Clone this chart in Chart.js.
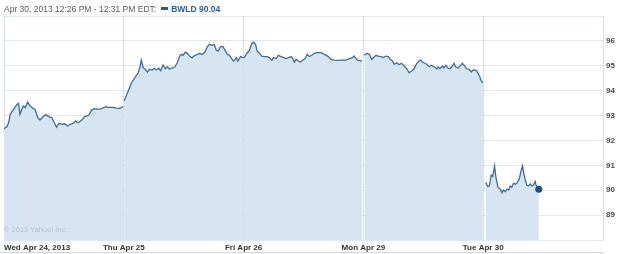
<!DOCTYPE html>
<html>
<head>
<meta charset="utf-8">
<script src="https://cdn.jsdelivr.net/npm/chart.js@4.4.1/dist/chart.umd.min.js"></script>
<style>
  body { margin: 0; background: #fff; font-family: "Liberation Sans", Arial, sans-serif; }
  #wrap { position: relative; width: 625px; height: 254px; }
  #head { position: absolute; left: 4px; top: 4px; font-size: 8.5px; line-height: 11px; color: #5c5c5c; white-space: nowrap; }
  #head .sw { display: inline-block; width: 7px; height: 3px; background: #1f5a98; vertical-align: middle; margin: 0 3px 0 5px; position: relative; top: -1px; }
  #head b { color: #2b5f9c; }
  #copy { position: absolute; left: 4px; top: 225px; font-size: 7.5px; color: #b4c3cf; white-space: nowrap; }
  #foot { position: absolute; left: 0; top: 252px; width: 603px; height: 1px; background: #d2d8dd; }
</style>
</head>
<body>
<div id="wrap">
  <canvas id="grafico"></canvas>
  <div id="head">Apr 30, 2013 12:26 PM - 12:31 PM EDT:<span class="sw"></span><b>BWLD 90.04</b></div>
  <div id="copy">© 2013 Yahoo! Inc.</div>
  <div id="foot"></div>
</div>
<script>
// dias de negociação (rótulos do eixo x)
const dias = ['Wed Apr 24, 2013', 'Thu Apr 25', 'Fri Apr 26', 'Mon Apr 29', 'Tue Apr 30'];

// horários (EDT) e preços, um par de listas por dia
const horasQua = ['9:30','9:39','9:45','9:50','10:01','10:12','10:17','10:22','10:28','10:33','10:39','10:47','10:55','11:06','11:11','11:20','11:27','11:38','11:46','11:55','12:05','12:14','12:21','12:29','12:38','12:48','12:57','13:05','13:16','13:23','13:32','13:43','13:53','14:06','14:15','14:24','14:37','14:48','15:01','15:09','15:26','15:36','15:47','15:58'];
const precosQua = [92.47,92.55,92.71,93.05,93.25,93.45,93.49,93.05,93.25,93.38,93.32,93.54,93.38,93.28,93.25,92.92,92.82,92.96,93.04,92.96,92.92,92.71,92.53,92.69,92.65,92.67,92.58,92.65,92.69,92.78,92.71,92.82,92.96,93.01,93.22,93.28,93.25,93.28,93.36,93.33,93.33,93.30,93.29,93.36];

const horasQui = ['9:31','9:44','9:55','10:06','10:17','10:22','10:27','10:33','10:38','10:47','10:54','11:02','11:09','11:16','11:24','11:30','11:38','11:45','11:52','11:59','12:07','12:16','12:24','12:32','12:37','12:43','12:50','12:57','13:04','13:12','13:21','13:29','13:37','13:45','13:53','14:02','14:09','14:17','14:24','14:31','14:37','14:45','14:53','14:58','15:07','15:14','15:22','15:28','15:36','15:41','15:50','15:59'];
const precosQui = [93.58,93.98,94.32,94.52,94.72,94.92,95.23,94.92,94.88,94.75,94.86,94.83,94.90,94.83,94.90,94.80,95.03,94.88,94.96,94.86,94.91,94.95,95.12,95.39,95.46,95.42,95.55,95.50,95.39,95.32,95.42,95.45,95.50,95.45,95.53,95.77,95.86,95.82,95.86,95.63,95.59,95.77,95.77,95.66,95.46,95.42,95.26,95.19,95.33,95.19,95.37,95.33];

const horasSex = ['9:31','9:38','9:49','9:57','10:03','10:09','10:14','10:22','10:29','10:38','10:47','10:54','11:02','11:08','11:16','11:23','11:32','11:41','11:48','11:56','12:05','12:10','12:15','12:21','12:28','12:35','12:43','12:50','12:57','13:04','13:12','13:20','13:29','13:42','13:53','14:06','14:15','14:25','14:38','14:52','15:03','15:14','15:25','15:30','15:36','15:41','15:56'];
const precosSex = [95.30,95.46,95.63,95.90,95.95,95.86,95.59,95.50,95.39,95.37,95.37,95.33,95.22,95.33,95.29,95.42,95.37,95.33,95.29,95.33,95.37,95.29,95.15,95.26,95.19,95.15,95.23,95.29,95.46,95.37,95.42,95.50,95.53,95.53,95.46,95.37,95.26,95.23,95.22,95.23,95.23,95.29,95.33,95.39,95.29,95.23,95.19];

const horasSeg = ['9:33','9:41','9:49','9:57','10:03','10:11','10:18','10:27','10:36','10:43','10:51','10:57','11:05','11:10','11:19','11:26','11:34','11:43','11:51','11:59','12:07','12:15','12:24','12:31','12:37','12:42','12:50','12:56','13:04','13:11','13:20','13:29','13:33','13:39','13:47','13:52','13:59','14:05','14:12','14:20','14:25','14:30','14:38','14:47','14:52','15:00','15:06','15:14','15:21','15:28','15:32','15:39','15:43','15:49','15:54','15:59'];
const precosSeg = [95.42,95.50,95.46,95.26,95.33,95.42,95.39,95.37,95.33,95.39,95.37,95.26,95.19,95.06,95.12,95.04,95.10,94.99,94.88,94.72,94.79,94.88,95.10,95.19,95.23,95.15,95.10,95.06,94.96,95.02,94.96,94.88,94.96,94.88,94.99,94.91,95.02,94.91,94.88,94.99,95.10,94.96,94.91,95.02,95.10,94.99,94.88,94.86,94.75,94.83,94.83,94.79,94.70,94.56,94.38,94.32];

const horasTer = ['9:38','9:45','9:50','9:56','10:01','10:07','10:11','10:18','10:26','10:31','10:36','10:42','10:47','10:53','10:58','11:03','11:09','11:14','11:19','11:27','11:34','11:38','11:42','11:47','11:52','11:57','12:03','12:08','12:14','12:19','12:22','12:31'];
const precosTer = [90.32,90.15,90.17,90.61,90.55,90.98,90.55,90.12,90.04,89.90,90.01,89.94,90.04,90.01,90.17,90.12,90.28,90.24,90.28,90.44,90.82,90.98,90.68,90.41,90.21,90.17,90.25,90.17,90.21,90.35,90.21,90.04];

const rotulosY = [89, 90, 91, 92, 93, 94, 95, 96];

// converte "HH:MM" em fração do pregão (9:30 - 16:00)
function fracaoDia(h) {
  const [hh, mm] = h.split(':').map(Number);
  return (hh * 60 + mm - 570) / 390;
}

const sessoes = [
  [horasQua, precosQua],
  [horasQui, precosQui],
  [horasSex, precosSex],
  [horasSeg, precosSeg],
  [horasTer, precosTer]
];

const pontos = [];
sessoes.forEach(([horas, precos], d) => {
  if (d > 0) pontos.push({ x: d, y: null }); // quebra entre pregões
  horas.forEach((h, i) => pontos.push({ x: d + fracaoDia(h), y: precos[i] }));
});
const ultimo = pontos.length - 1;

new Chart(document.getElementById('grafico'), {
  type: 'line',
  data: {
    datasets: [{
      data: pontos,
      borderColor: '#3e6d9d',
      borderWidth: 1.3,
      backgroundColor: '#d6e5f1',
      fill: 'start',
      tension: 0,
      spanGaps: false,
      pointRadius: ctx => ctx.dataIndex === ultimo ? 3.5 : 0,
      pointBackgroundColor: '#1c4f86',
      pointBorderWidth: 0
    }]
  },
  options: {
    responsive: true,
    maintainAspectRatio: false,
    animation: false,
    layout: { padding: { left: 1, top: 16, right: 0, bottom: 0 } },
    plugins: { legend: { display: false }, tooltip: { enabled: false } },
    scales: {
      x: {
        type: 'linear',
        min: 0,
        max: 5,
        grid: { color: '#d9e1e8', drawTicks: false },
        border: { display: false },
        afterFit: s => { s.height = 14; },
        ticks: {
          stepSize: 1,
          autoSkip: false,
          maxRotation: 0,
          align: 'inner',
          padding: 3,
          color: '#333',
          font: { family: 'Liberation Sans', size: 8, weight: 'bold' },
          callback: v => dias[v] || ''
        }
      },
      y: {
        position: 'right',
        min: 88,
        max: 97,
        z: 1,
        grid: { color: 'rgba(80,115,150,0.17)', drawTicks: false },
        border: { display: false },
        afterFit: s => { s.width = 22; },
        ticks: {
          stepSize: 1,
          padding: 3,
          color: '#4a4a4a',
          font: { family: 'Liberation Sans', size: 8, weight: 'bold' },
          callback: v => rotulosY.includes(v) ? v : ''
        }
      }
    }
  }
});
</script>
</body>
</html>
